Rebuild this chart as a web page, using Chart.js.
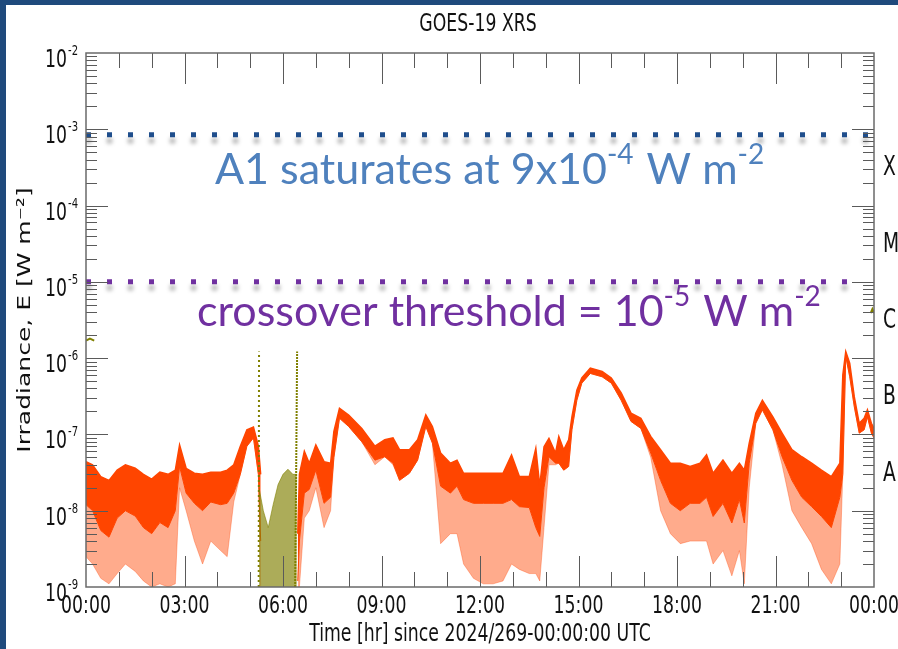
<!DOCTYPE html>
<html><head><meta charset="utf-8">
<script src="https://cdn.jsdelivr.net/npm/chart.js@4.4.1/dist/chart.umd.min.js"></script>
<style>
html,body{margin:0;padding:0;background:#fff;overflow:hidden;}
#wrap{position:relative;width:898px;height:649px;}
#frameTop{position:absolute;left:0;top:0;width:898px;height:5px;background:#1f4a7c;}
#frameLeft{position:absolute;left:0;top:0;width:6px;height:649px;background:#1f4a7c;}
canvas{position:absolute;left:0;top:0;}
</style></head>
<body><div id="wrap"><canvas id="c" width="898" height="649"></canvas><div id="frameTop"></div><div id="frameLeft"></div></div>
<script>
// ---- data (hours since 00:00 UTC, irradiance W m^-2) ----
const TITLE = 'GOES-19 XRS';
const X_TITLE = 'Time [hr] since 2024/269-00:00:00 UTC';
const Y_TITLE = 'Irradiance, E [W m\u207B\u00B2]';
const xTickValues = [0,3,6,9,12,15,18,21,24];
const xTickLabels = ['00:00','03:00','06:00','09:00','12:00','15:00','18:00','21:00','00:00'];
const yDecades = [1e-2,1e-3,1e-4,1e-5,1e-6,1e-7,1e-8,1e-9];
const flareClasses = ['X','M','C','B','A'];
const flareLower = [1e-4,1e-5,1e-6,1e-7,1e-8];

// orange (XRS-B) channel: dense band upper / lower and lowest scattered points
const bTimes = [0.00,0.20,0.45,0.70,0.95,1.20,1.50,1.75,2.00,2.25,2.50,2.72,2.85,3.05,3.30,3.55,3.80,4.10,4.30,4.50,4.70,4.90,5.10,5.25,5.32,5.40,
  6.40,6.45,6.50,6.65,6.80,7.00,7.25,7.45,7.55,7.72,8.00,8.40,8.80,9.10,9.35,9.55,9.85,10.10,10.35,10.55,10.80,11.10,11.30,11.50,11.80,12.10,12.40,12.70,12.96,
  13.20,13.50,13.70,13.82,13.95,14.10,14.30,14.40,14.55,14.70,14.80,14.95,15.10,15.36,15.72,16.00,16.30,16.60,16.90,17.20,17.50,17.80,18.10,18.40,18.70,18.90,
  19.10,19.40,19.67,19.90,20.05,20.20,20.40,20.60,20.92,21.20,21.50,21.80,22.10,22.40,22.70,22.96,23.05,23.14,23.26,23.40,23.55,23.70,23.80,23.92,24.00];
const bHigh = [4.4e-8,4.0e-8,2.8e-8,2.5e-8,3.4e-8,4.0e-8,3.6e-8,3.0e-8,2.6e-8,3.2e-8,3.0e-8,3.4e-8,7.3e-8,3.6e-8,3.1e-8,3.0e-8,3.2e-8,3.2e-8,3.4e-8,4.0e-8,7.0e-8,1.15e-7,1.25e-7,7.0e-8,3.0e-8,null,
  null,5.0e-9,3.0e-8,6.0e-8,4.2e-8,7.3e-8,4.4e-8,4.2e-8,1.1e-7,2.2e-7,1.8e-7,1.2e-7,7.0e-8,8.5e-8,9.0e-8,6.3e-8,6.3e-8,8.5e-8,1.8e-7,1.27e-7,5.7e-8,4.2e-8,4.6e-8,3.1e-8,3.1e-8,3.1e-8,3.1e-8,3.1e-8,5.4e-8,
  2.8e-8,2.8e-8,6.6e-8,2.1e-8,6.9e-8,8.9e-8,5.7e-8,9.4e-8,6.3e-8,8.5e-8,1.7e-7,3.8e-7,5.5e-7,7.4e-7,6.7e-7,5.5e-7,3.5e-7,1.9e-7,1.63e-7,9.4e-8,6.3e-8,4.2e-8,4.2e-8,3.8e-8,4.2e-8,5.4e-8,
  3.1e-8,4.6e-8,3.1e-8,4.2e-8,3.4e-8,7.7e-8,1.9e-7,2.8e-7,1.7e-7,1.04e-7,6.3e-8,5.1e-8,4.2e-8,3.4e-8,2.8e-8,4.2e-8,6.0e-7,1.22e-6,8.6e-7,3.1e-7,1.4e-7,1.63e-7,2.1e-7,1.4e-7,1.2e-7];
const bLow = [1.2e-8,1.0e-8,5.5e-9,4.5e-9,8.0e-9,1.0e-8,8.5e-9,6.0e-9,5.0e-9,7.0e-9,6.0e-9,1.0e-8,3.8e-8,1.7e-8,1.25e-8,1.0e-8,1.3e-8,1.2e-8,1.25e-8,1.7e-8,3.0e-8,7.0e-8,9.0e-8,3.0e-8,4.0e-9,null,
  null,1.2e-9,4.0e-9,1.7e-8,1.9e-8,3.4e-8,1.25e-8,1.5e-8,5.0e-8,1.63e-7,1.27e-7,8.0e-8,4.6e-8,5.1e-8,4.2e-8,2.5e-8,3.1e-8,4.6e-8,1.27e-7,7.7e-8,2.1e-8,1.7e-8,2.1e-8,1.4e-8,1.25e-8,1.25e-8,1.25e-8,1.25e-8,1.4e-8,
  1.13e-8,1.1e-8,6.0e-9,4.6e-9,2.0e-8,5.1e-8,4.2e-8,4.2e-8,3.4e-8,3.8e-8,1.15e-7,2.8e-7,4.7e-7,6.3e-7,5.7e-7,4.7e-7,2.8e-7,1.48e-7,1.2e-7,5.7e-8,2.5e-8,1.25e-8,1.0e-8,1.25e-8,1.25e-8,1.5e-8,
  8.4e-9,1.25e-8,6.9e-9,1.4e-8,6.9e-9,4.2e-8,1.4e-7,2.1e-7,1.15e-7,5.1e-8,2.5e-8,1.5e-8,1.13e-8,8.4e-9,6.0e-9,1.5e-8,3.0e-8,1.05e-6,5.7e-7,2.3e-7,1.04e-7,1.15e-7,1.7e-7,1.04e-7,9.0e-8];
const bFloor = [2.5e-9,2.0e-9,1.3e-9,1.1e-9,1.5e-9,2.0e-9,1.6e-9,1.2e-9,1.0e-9,1.1e-9,1.0e-9,1.1e-9,2.0e-8,1.0e-8,4.0e-9,2.0e-9,4.0e-9,3.0e-9,2.5e-9,1.3e-8,3.0e-8,7.0e-8,9.0e-8,3.0e-8,1.0e-9,null,
  null,1.0e-9,1.0e-9,8.0e-9,1.0e-8,2.0e-8,6.0e-9,1.0e-8,5.0e-8,1.63e-7,1.27e-7,8.0e-8,4.0e-8,5.1e-8,4.0e-8,2.5e-8,3.1e-8,4.6e-8,1.27e-7,7.7e-8,3.7e-9,5.0e-9,5.0e-9,2.0e-9,1.3e-9,1.1e-9,1.1e-9,1.2e-9,2.0e-9,
  1.7e-9,1.5e-9,1.5e-9,1.2e-9,6.0e-9,4.0e-8,4.0e-8,4.2e-8,3.4e-8,3.8e-8,1.15e-7,2.8e-7,4.7e-7,6.3e-7,5.7e-7,4.7e-7,2.8e-7,1.48e-7,1.2e-7,5.0e-8,1.0e-8,5.0e-9,3.7e-9,4.0e-9,4.0e-9,4.0e-9,
  2.0e-9,3.0e-9,1.4e-9,3.0e-9,1.1e-9,2.0e-8,1.4e-7,2.1e-7,1.15e-7,4.0e-8,1.0e-8,6.0e-9,3.7e-9,1.7e-9,1.1e-9,2.0e-9,3.0e-8,1.05e-6,5.7e-7,2.3e-7,1.04e-7,1.15e-7,1.7e-7,1.04e-7,9.0e-8];

// olive (XRS-A) channel
const aBandTimes = [5.27,5.40,5.55,5.70,5.85,6.00,6.15,6.30,6.42];
const aBandHigh  = [2.0e-8,1.0e-8,6.0e-9,1.2e-8,2.2e-8,3.0e-8,3.5e-8,3.0e-8,3.0e-8];
const aDropTimes = [5.26,5.27];
const aDropValues = [1.0e-9,1.22e-6];
const aRiseTimes = [6.37,6.40,6.43];
const aRiseValues = [1.0e-9,3.0e-8,1.22e-6];
const aStartTimes = [0.00,0.12,0.25];
const aStartValues = [1.7e-6,1.8e-6,1.7e-6];
const aEndTimes = [23.90,23.95,24.00];
const aEndValues = [3.9e-6,4.4e-6,3.9e-6];

// reference levels
const saturationLevel = 8.5e-4;
const crossoverLevel = 1e-5;
const levelTimes = [0, 24];
const crossoverTimes = [0, 23.5];

const pts = (xs, ys) => xs.map((x, i) => ({x: x, y: ys[i]}));
const constPts = (xs, v) => xs.map(x => ({x: x, y: v}));

const FONT = '"DejaVu Sans", sans-serif';
const SQ = 0.72;          // horizontal squeeze of the plot lettering
const ORANGE = '#ff4500';
const OLIVE = '#808000';

function squeezedText(ctx, text, x, y, size, align, baseline) {
  ctx.save();
  ctx.translate(x, y);
  ctx.scale(SQ, 1);
  ctx.font = size + 'px ' + FONT;
  ctx.textAlign = align;
  ctx.textBaseline = baseline || 'alphabetic';
  ctx.fillText(text, 0, 0);
  ctx.restore();
}

const tickPlugin = {
  id: 'ticksAndLabels',
  afterDatasetsDraw(chart) {
    const ctx = chart.ctx, a = chart.chartArea, xs = chart.scales.x, ys = chart.scales.y;
    ctx.save();
    ctx.strokeStyle = '#5a5a5a';
    ctx.lineWidth = 1;
    ctx.beginPath();
    for (let h = 1; h < 24; h++) {
      const px = Math.round(xs.getPixelForValue(h)) + 0.5;
      const len = (h % 3 === 0) ? 31 : 15;
      ctx.moveTo(px, a.bottom); ctx.lineTo(px, a.bottom - len);
      ctx.moveTo(px, a.top); ctx.lineTo(px, a.top + len);
    }
    for (let d = -9; d <= -3; d++) {
      for (let m = 1; m <= 9; m++) {
        if (d === -9 && m === 1) continue;
        const py = Math.round(ys.getPixelForValue(m * Math.pow(10, d))) + 0.5;
        const len = (m === 1) ? 22 : 11;
        ctx.moveTo(a.left, py); ctx.lineTo(a.left + len, py);
        ctx.moveTo(a.right, py); ctx.lineTo(a.right - len, py);
      }
    }
    ctx.stroke();
    ctx.lineWidth = 1.5;
    ctx.strokeStyle = '#6a6a6a';
    ctx.strokeRect(a.left, a.top, a.right - a.left, a.bottom - a.top);

    ctx.fillStyle = '#111';
    // y tick labels with superscript exponents
    yDecades.forEach(v => {
      const py = ys.getPixelForValue(v);
      const e = Math.round(Math.log10(v));
      squeezedText(ctx, '10', a.left - 19, py + 14, 24, 'right');
      squeezedText(ctx, String(e), a.left - 18, py + 2, 14, 'left');
    });
    // x tick labels
    xTickValues.forEach((v, i) => {
      squeezedText(ctx, xTickLabels[i], xs.getPixelForValue(v), a.bottom + 26, 24, 'center');
    });
    // axis titles and chart title
    squeezedText(ctx, X_TITLE, (a.left + a.right) / 2, 641, 24, 'center');
    squeezedText(ctx, TITLE, (a.left + a.right) / 2 - 2, 31, 24, 'center');
    ctx.save();
    ctx.translate(30, (a.top + a.bottom) / 2);
    ctx.scale(SQ, 1);
    ctx.rotate(-Math.PI / 2);
    ctx.font = '25px ' + FONT;
    ctx.textAlign = 'center';
    ctx.textBaseline = 'alphabetic';
    ctx.fillText(Y_TITLE, 0, 0);
    ctx.restore();
    // flare class letters on the right
    flareClasses.forEach((c, i) => {
      const py = ys.getPixelForValue(Math.sqrt(flareLower[i] * flareLower[i] * 10));
      squeezedText(ctx, c, a.right + 9, py + 8, 26, 'left');
    });
    ctx.restore();
  }
};

const annotations = [
  {parts: [['A1 saturates at 9x10', 0], ['-4', 1], [' W m', 0], ['-2', 1]], level: saturationLevel, x: 215, dy: 49, color: '#4f81bd'},
  {parts: [['crossover threshold = 10', 0], ['-5', 1], [' W m', 0], ['-2', 1]], level: crossoverLevel, x: 197, dy: 44, color: '#7030a0'}
];
const annotationPlugin = {
  id: 'annotText',
  afterDraw(chart) {
    const ctx = chart.ctx, ys = chart.scales.y;
    ctx.save();
    ctx.textBaseline = 'alphabetic';
    ctx.textAlign = 'left';
    annotations.forEach(an => {
      let x = an.x;
      const base = ys.getPixelForValue(an.level) + an.dy;
      ctx.fillStyle = an.color;
      an.parts.forEach(([t, sup]) => {
        ctx.font = sup ? '28px Lato' : '43px Lato';
        ctx.fillText(t, x, sup ? base - 20 : base);
        x += ctx.measureText(t).width + (sup ? 2 : 0);
      });
    });
    ctx.restore();
  }
};

const shadowPlugin = {
  id: 'dotShadow',
  beforeDatasetDraw(chart, args) {
    if (chart.data.datasets[args.index].dotShadow) {
      const ctx = chart.ctx;
      ctx.save();
      ctx.shadowColor = 'rgba(0,0,0,0.35)';
      ctx.shadowBlur = 4;
      ctx.shadowOffsetY = 6;
    }
  },
  afterDatasetDraw(chart, args) {
    if (chart.data.datasets[args.index].dotShadow) chart.ctx.restore();
  }
};

const lineBase = {showLine: true, pointRadius: 0, tension: 0, spanGaps: false, fill: false};

new Chart(document.getElementById('c'), {
  type: 'scatter',
  data: {datasets: [
    Object.assign({}, lineBase, {label: 'A1 saturation', data: constPts(levelTimes, saturationLevel), borderColor: '#1f4e8c', borderWidth: 5, borderDash: [5, 16], borderCapStyle: 'butt', dotShadow: true}),
    Object.assign({}, lineBase, {label: 'crossover', data: constPts(crossoverTimes, crossoverLevel), borderColor: '#7030a0', borderWidth: 5, borderDash: [5, 16], borderCapStyle: 'butt', dotShadow: true}),
    Object.assign({}, lineBase, {label: 'XRS-A drop', data: pts(aDropTimes, aDropValues), borderColor: OLIVE, borderWidth: 2, borderDash: [2, 3]}),
    Object.assign({}, lineBase, {label: 'XRS-A rise', data: pts(aRiseTimes, aRiseValues), borderColor: OLIVE, borderWidth: 2, borderDash: [2, 1]}),
    Object.assign({}, lineBase, {label: 'XRS-A start', data: pts(aStartTimes, aStartValues), borderColor: OLIVE, borderWidth: 2}),
    Object.assign({}, lineBase, {label: 'XRS-A end', data: pts(aEndTimes, aEndValues), borderColor: OLIVE, borderWidth: 2}),
    Object.assign({}, lineBase, {label: 'XRS-A scatter', data: pts(aBandTimes, aBandHigh), borderColor: 'rgba(128,128,0,0.6)', borderWidth: 1, fill: 'start', backgroundColor: 'rgba(128,128,0,0.65)'}),
    Object.assign({}, lineBase, {label: 'XRS-B high', data: pts(bTimes, bHigh), borderColor: ORANGE, borderWidth: 1.5, fill: 8, backgroundColor: ORANGE}),
    Object.assign({}, lineBase, {label: 'XRS-B low', data: pts(bTimes, bLow), borderColor: ORANGE, borderWidth: 1, fill: 9, backgroundColor: 'rgba(255,69,0,0.45)'}),
    Object.assign({}, lineBase, {label: 'XRS-B floor', data: pts(bTimes, bFloor), borderColor: 'rgba(255,69,0,0.35)', borderWidth: 1})
  ]},
  options: {
    responsive: false, animation: false, devicePixelRatio: 1,
    layout: {padding: {left: 0, right: 24, top: 53, bottom: 0}},
    plugins: {legend: {display: false}, tooltip: {enabled: false}, title: {display: false}},
    scales: {
      x: {type: 'linear', min: 0, max: 24,
        grid: {display: false, drawTicks: false}, border: {display: false},
        ticks: {display: false},
        afterFit: s => { s.height = 62; }},
      y: {type: 'logarithmic', min: 1e-9, max: 1e-2,
        grid: {display: false, drawTicks: false}, border: {display: false},
        ticks: {display: false},
        afterFit: s => { s.width = 86; }}
    }
  },
  plugins: [shadowPlugin, tickPlugin, annotationPlugin]
});
</script>
</body></html>
